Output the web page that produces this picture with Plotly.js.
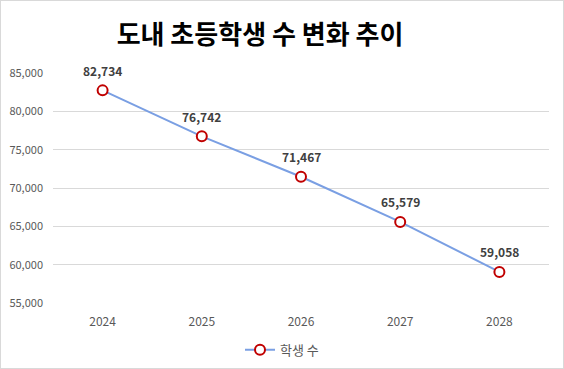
<!DOCTYPE html>
<html>
<head>
<meta charset="utf-8">
<script src="https://cdn.plot.ly/plotly-3.0.1.min.js"></script>
<style>
html,body{margin:0;padding:0;background:#fff;}
#wrap{position:relative;width:564px;height:369px;}
#chart{position:absolute;left:0;top:0;width:564px;height:369px;}
#frame{position:absolute;left:0;top:0;width:562px;height:367px;border:1px solid #D9D9D9;pointer-events:none;}
</style>
</head>
<body>
<div id="wrap"><div id="chart"></div><div id="frame"></div></div>
<script>
const years = ['2024', '2025', '2026', '2027', '2028'];
const students = [82734, 76742, 71467, 65579, 59058];
const seriesName = '학생 수';
const chartTitle = '도내 초등학생 수 변화 추이';
const yTicks = [55000, 60000, 65000, 70000, 75000, 80000, 85000];

const fontFamily = '"Malgun Gothic", "Noto Sans CJK KR", "Noto Sans", sans-serif';

const trace = {
  x: years,
  y: students,
  type: 'scatter',
  mode: 'lines+markers',
  name: seriesName,
  line: {color: '#7A9FE3', width: 2},
  marker: {symbol: 'circle', size: 10, color: '#FFFFFF', line: {color: '#C00000', width: 2}},
  cliponaxis: false
};

const annotations = years.map((yr, i) => ({
  x: i,
  y: students[i],
  xref: 'x', yref: 'y',
  text: '<b>' + students[i].toLocaleString('en-US') + '</b>',
  showarrow: false,
  yshift: 20,
  font: {family: fontFamily, size: 12, color: '#404040'}
}));

const layout = {
  width: 564,
  height: 369,
  margin: {l: 53, r: 15, t: 73, b: 66, autoexpand: false},
  paper_bgcolor: '#FFFFFF',
  plot_bgcolor: '#FFFFFF',
  title: {
    text: '<b>' + chartTitle + '</b>',
    x: 0.461, xanchor: 'center',
    y: 0.905, yanchor: 'middle',
    font: {family: fontFamily, size: 26, color: '#000000'}
  },
  xaxis: {
    type: 'category',
    range: [-0.5, 4.5],
    showgrid: false,
    zeroline: false,
    showline: false,
    ticks: '',
    ticklabelstandoff: 10,
    tickfont: {family: fontFamily, size: 12, color: '#595959'}
  },
  yaxis: {
    range: [55000, 85000],
    tickvals: yTicks,
    tickformat: ',d',
    showgrid: true,
    gridcolor: '#D9D9D9',
    gridwidth: 1,
    zeroline: false,
    showline: false,
    ticks: '',
    ticklabelstandoff: 9,
    tickfont: {family: fontFamily, size: 11, color: '#595959'}
  },
  annotations: annotations,
  showlegend: true,
  legend: {
    orientation: 'h',
    xref: 'container', yref: 'container',
    x: 0.5, xanchor: 'center',
    y: 0.052, yanchor: 'middle',
    font: {family: fontFamily, size: 13, color: '#595959'},
    itemwidth: 30
  }
};

Plotly.newPlot('chart', [trace], layout, {displayModeBar: false, staticPlot: true});
</script>
</body>
</html>
